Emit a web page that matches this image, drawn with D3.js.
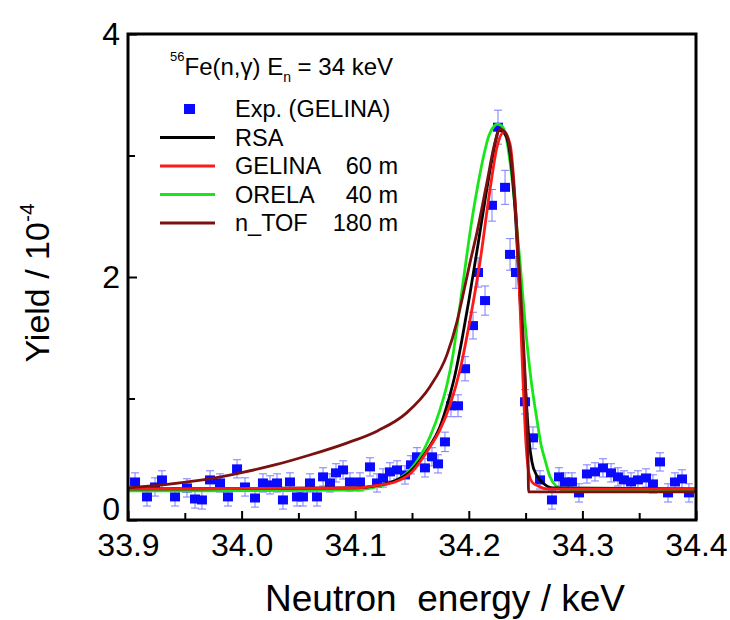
<!DOCTYPE html>
<html>
<head>
<meta charset="utf-8">
<script src="https://cdn.jsdelivr.net/npm/d3@7"></script>
<style>
body { margin: 0; background: #fff; }
text { font-family: 'Liberation Sans', Arial, sans-serif; fill: #000; }
</style>
</head>
<body>
<svg id="chart" width="730" height="620"></svg>
<script>
'use strict'

// measured points (GELINA)
const expEnergy = [33.9062, 33.9167, 33.9238, 33.9299, 33.9414, 33.9519, 33.9590, 33.9651, 33.9722, 33.9810,
	33.9880, 33.9960, 34.0030, 34.0118, 34.0188, 34.0250, 34.0312, 34.0364, 34.0426, 34.0488,
	34.0540, 34.0602, 34.0664, 34.0717, 34.0778, 34.0831, 34.0893, 34.0954, 34.1042, 34.1130,
	34.1192, 34.1245, 34.1306, 34.1368, 34.1438, 34.1491, 34.1544, 34.1614, 34.1676, 34.1729,
	34.1790, 34.1843, 34.1905, 34.1967, 34.2037, 34.2081, 34.2143, 34.2204, 34.2257, 34.2319,
	34.2363, 34.2415, 34.2495, 34.2565, 34.2627, 34.2732, 34.2794, 34.2847, 34.2908, 34.2970,
	34.3040, 34.3111, 34.3181, 34.3252, 34.3313, 34.3366, 34.3428, 34.3489, 34.3560, 34.3621,
	34.3683, 34.3754, 34.3815, 34.3877, 34.3938]
const expYield = [0.313, 0.190, 0.272, 0.330, 0.190, 0.264, 0.173, 0.165, 0.330, 0.305,
	0.190, 0.421, 0.272, 0.181, 0.305, 0.289, 0.305, 0.165, 0.313, 0.190,
	0.190, 0.305, 0.190, 0.355, 0.305, 0.388, 0.412, 0.313, 0.313, 0.437,
	0.305, 0.346, 0.396, 0.412, 0.371, 0.454, 0.520, 0.429, 0.520, 0.462,
	0.643, 0.940, 0.940, 1.245, 1.600, 2.037, 1.806, 2.590, 3.233, 2.738,
	2.186, 2.037, 0.973, 0.676, 0.330, 0.165, 0.355, 0.313, 0.313, 0.223,
	0.379, 0.396, 0.429, 0.388, 0.355, 0.330, 0.313, 0.330, 0.346, 0.297,
	0.478, 0.223, 0.313, 0.338, 0.223]
const expError = [0.075, 0.075, 0.075, 0.075, 0.075, 0.075, 0.075, 0.075, 0.075, 0.075,
	0.075, 0.075, 0.075, 0.075, 0.075, 0.075, 0.075, 0.075, 0.075, 0.075,
	0.075, 0.075, 0.075, 0.075, 0.075, 0.075, 0.075, 0.075, 0.075, 0.075,
	0.075, 0.075, 0.075, 0.075, 0.075, 0.075, 0.075, 0.075, 0.075, 0.075,
	0.08, 0.09, 0.09, 0.10, 0.11, 0.12, 0.12, 0.13, 0.14, 0.14,
	0.13, 0.13, 0.10, 0.09, 0.075, 0.075, 0.075, 0.075, 0.075, 0.075,
	0.075, 0.075, 0.075, 0.075, 0.075, 0.075, 0.075, 0.075, 0.075, 0.075,
	0.075, 0.075, 0.075, 0.075, 0.075]

// simulated yields [energy, yield]
const rsaCurve = [[33.900, 0.256], [34.0998, 0.264], [34.1218, 0.289], [34.1350, 0.322], [34.1500, 0.412],
	[34.1641, 0.586], [34.1746, 0.767], [34.1817, 0.973], [34.1879, 1.196], [34.1940, 1.485],
	[34.2002, 1.814], [34.2081, 2.268], [34.2151, 2.680], [34.2213, 3.010], [34.2266, 3.208],
	[34.2319, 3.175], [34.2363, 3.010], [34.2407, 2.557], [34.2451, 1.814], [34.2495, 1.155],
	[34.2530, 0.660], [34.2556, 0.478], [34.2600, 0.363], [34.2653, 0.305], [34.2741, 0.264],
	[34.4000, 0.256]]
const gelinaCurve = [[33.900, 0.256], [34.0998, 0.264], [34.1218, 0.289], [34.1350, 0.313], [34.1500, 0.396],
	[34.1641, 0.577], [34.1746, 0.742], [34.1835, 0.948], [34.1923, 1.237], [34.2011, 1.649],
	[34.2099, 2.128], [34.2187, 2.722], [34.2248, 3.068], [34.2310, 3.192], [34.2363, 3.093],
	[34.2407, 2.639], [34.2442, 1.979], [34.2477, 1.155], [34.2504, 0.619], [34.2530, 0.379],
	[34.2556, 0.313], [34.2609, 0.280], [34.2697, 0.256], [34.4000, 0.256]]
const orelaCurve = [[33.900, 0.239], [34.0998, 0.247], [34.1218, 0.280], [34.1350, 0.322], [34.1482, 0.412],
	[34.1570, 0.520], [34.1658, 0.685], [34.1746, 0.907], [34.1808, 1.113], [34.1861, 1.361],
	[34.1923, 1.773], [34.1975, 2.128], [34.2028, 2.474], [34.2081, 2.763], [34.2134, 3.010],
	[34.2178, 3.167], [34.2222, 3.241], [34.2248, 3.258], [34.2283, 3.249], [34.2319, 3.192],
	[34.2363, 2.944], [34.2407, 2.573], [34.2451, 2.120], [34.2495, 1.625], [34.2548, 1.155],
	[34.2600, 0.825], [34.2636, 0.619], [34.2671, 0.495], [34.2715, 0.355], [34.2776, 0.272],
	[34.2838, 0.247], [34.4000, 0.247]]
const ntofCurve = [[33.900, 0.264], [33.940, 0.300], [33.970, 0.337], [34.000, 0.390], [34.030, 0.455],
	[34.060, 0.535], [34.090, 0.625], [34.120, 0.735], [34.145, 0.880], [34.1658, 1.097],
	[34.1808, 1.361], [34.1896, 1.633], [34.1940, 1.814], [34.2011, 2.120], [34.2072, 2.367],
	[34.2160, 2.779], [34.2231, 3.109], [34.2275, 3.216], [34.2319, 3.192], [34.2363, 3.052],
	[34.2415, 2.515], [34.2460, 1.814], [34.2495, 1.196], [34.2512, 0.784], [34.2521, 0.536],
	[34.2526, 0.231], [34.4000, 0.231]]

const xTicks = [33.9, 34.0, 34.1, 34.2, 34.3, 34.4]
const xMinorTicks = [33.95, 34.05, 34.15, 34.25, 34.35]
const yTicks = [0, 2, 4]
const yMinorTicks = [1, 3]

const legendNames = ['RSA', 'GELINA', 'ORELA', 'n_TOF']
const legendDistances = ['', '60 m', '40 m', '180 m']
const legendColors = ['#000000', '#ff1a1a', '#19e619', '#7a1010']

const plotLeft = 128, plotRight = 696, plotTop = 34, plotBottom = 520
const svg = d3.select('#chart')

const x = d3.scaleLinear().domain([33.9, 34.4]).range([plotLeft, plotRight])
const y = d3.scaleLinear().domain([0, 4]).range([plotBottom, plotTop])

svg.append('defs').append('clipPath').attr('id', 'plotClip')
	.append('rect')
	.attr('x', plotLeft).attr('y', plotTop)
	.attr('width', plotRight - plotLeft).attr('height', plotBottom - plotTop)

const plot = svg.append('g').attr('clip-path', 'url(#plotClip)')

// error bars + squares
const points = expEnergy.map(function(e, i) {
	return {e: e, v: expYield[i], err: expError[i]}
})
const bars = plot.append('g').attr('stroke', '#7c7cff').attr('stroke-width', 1)
points.forEach(function(p) {
	let cx = x(p.e)
	bars.append('line')
		.attr('x1', cx).attr('x2', cx)
		.attr('y1', y(p.v - p.err)).attr('y2', y(p.v + p.err))
	bars.append('line')
		.attr('x1', cx - 4).attr('x2', cx + 4)
		.attr('y1', y(p.v + p.err)).attr('y2', y(p.v + p.err))
	bars.append('line')
		.attr('x1', cx - 4).attr('x2', cx + 4)
		.attr('y1', y(p.v - p.err)).attr('y2', y(p.v - p.err))
})
plot.append('g').selectAll('rect')
	.data(points)
	.enter().append('rect')
	.attr('x', d => x(d.e) - 5)
	.attr('y', d => y(d.v) - 4.5)
	.attr('width', 10)
	.attr('height', 9)
	.attr('fill', '#0a0aff')

const line = d3.line()
	.x(d => x(d[0]))
	.y(d => y(d[1]))
	.curve(d3.curveMonotoneX)

const curves = [
	{data: orelaCurve, color: legendColors[2]},
	{data: rsaCurve, color: legendColors[0]},
	{data: gelinaCurve, color: legendColors[1]},
	{data: ntofCurve, color: legendColors[3]}
]
curves.forEach(function(c) {
	plot.append('path')
		.attr('d', line(c.data))
		.attr('fill', 'none')
		.attr('stroke', c.color)
		.attr('stroke-width', 2.8)
		.attr('stroke-linejoin', 'round')
})

// axes
const xAxis = svg.append('g')
	.attr('transform', 'translate(0,' + plotBottom + ')')
	.call(d3.axisBottom(x).tickValues(xTicks).tickFormat(d3.format('.1f'))
		.tickSizeInner(-9).tickSizeOuter(0).tickPadding(13))
xAxis.append('g')
	.call(d3.axisBottom(x).tickValues(xMinorTicks).tickFormat('')
		.tickSizeInner(-7).tickSizeOuter(0))
const yAxis = svg.append('g')
	.attr('transform', 'translate(' + plotLeft + ',0)')
	.call(d3.axisLeft(y).tickValues(yTicks).tickFormat(d3.format('d'))
		.tickSizeInner(-9).tickSizeOuter(0).tickPadding(8))
yAxis.append('g')
	.call(d3.axisLeft(y).tickValues(yMinorTicks).tickFormat('')
		.tickSizeInner(-7).tickSizeOuter(0))

svg.selectAll('.domain').remove()
svg.selectAll('.tick line').attr('stroke', '#000').attr('stroke-width', 2)
xAxis.selectAll('.tick text').attr('font-size', 32).attr('font-family', 'Liberation Sans, Arial, sans-serif')
yAxis.selectAll('.tick text').attr('font-size', 32).attr('font-family', 'Liberation Sans, Arial, sans-serif')
	.attr('dy', d => d === 0 ? '-1px' : '0.32em')

svg.append('rect')
	.attr('x', plotLeft).attr('y', plotTop)
	.attr('width', plotRight - plotLeft).attr('height', plotBottom - plotTop)
	.attr('fill', 'none')
	.attr('stroke', '#000')
	.attr('stroke-width', 3)

// axis titles
svg.append('text')
	.attr('x', 445)
	.attr('y', 611)
	.attr('text-anchor', 'middle')
	.attr('font-size', 37)
	.attr('xml:space', 'preserve')
	.text('Neutron  energy / keV')

const yTitle = svg.append('text')
	.attr('transform', 'translate(49,283) rotate(-90)')
	.attr('text-anchor', 'middle')
	.attr('font-size', 34)
yTitle.append('tspan').text('Yield / 10')
yTitle.append('tspan').attr('font-size', 21).attr('dy', -15).text('-4')

// legend
const title = svg.append('text').attr('x', 170).attr('y', 75).attr('font-size', 24)
title.append('tspan').attr('font-size', 13).attr('dy', -14).text('56')
title.append('tspan').attr('dy', 14).text('Fe(n,γ) E')
title.append('tspan').attr('font-size', 14).attr('dy', 7).text('n')
title.append('tspan').attr('dy', -7).attr('xml:space', 'preserve').text(' = 34 keV')

svg.append('rect')
	.attr('x', 184).attr('y', 104)
	.attr('width', 11).attr('height', 10)
	.attr('fill', '#0a0aff')
svg.append('text').attr('x', 235).attr('y', 117).attr('font-size', 23.5).text('Exp. (GELINA)')

legendNames.forEach(function(name, i) {
	let by = 145.5 + i * 28.5
	svg.append('line')
		.attr('x1', 160).attr('x2', 215)
		.attr('y1', by - 8).attr('y2', by - 8)
		.attr('stroke', legendColors[i])
		.attr('stroke-width', 3)
	svg.append('text').attr('x', 235).attr('y', by).attr('font-size', 23.5).text(name)
	if (legendDistances[i])
		svg.append('text').attr('x', 398).attr('y', by).attr('font-size', 23.5)
			.attr('text-anchor', 'end').text(legendDistances[i])
})
</script>
</body>
</html>
